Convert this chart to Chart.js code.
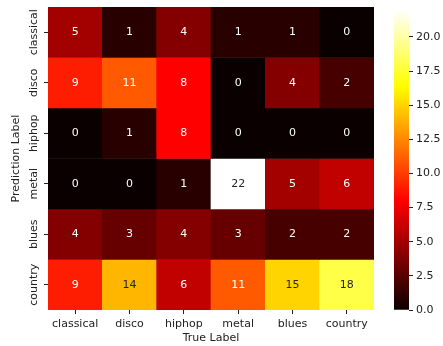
<!DOCTYPE html>
<html>
<head>
<meta charset="utf-8">
<script src="https://cdn.jsdelivr.net/npm/chart.js@4"></script>
<style>
  html, body { margin: 0; padding: 0; background: #fff; }
  #wrap { position: relative; width: 443px; height: 346px; }
  .layer { position: absolute; left: 0; top: 0; width: 443px; height: 346px; }
</style>
</head>
<body>
<div id="wrap">
  <div class="layer"><canvas id="heat"></canvas></div>
  <div class="layer"><canvas id="cbar"></canvas></div>
</div>
<script>
// confusion matrix data
const trueLabels = ['classical', 'disco', 'hiphop', 'metal', 'blues', 'country'];
const predLabels = ['classical', 'disco', 'hiphop', 'metal', 'blues', 'country'];

const predClassical = [5, 1, 4, 1, 1, 0];
const predDisco     = [9, 11, 8, 0, 4, 2];
const predHiphop    = [0, 1, 8, 0, 0, 0];
const predMetal     = [0, 0, 1, 22, 5, 6];
const predBlues     = [4, 3, 4, 3, 2, 2];
const predCountry   = [9, 14, 6, 11, 15, 18];

const matrix = [predClassical, predDisco, predHiphop, predMetal, predBlues, predCountry];

const cbTicks = [0, 2.5, 5, 7.5, 10, 12.5, 15, 17.5, 20];
const vmin = 0;
const vmax = 22;

const FONT = { family: '"DejaVu Sans"', size: 11 };
const TEXT = '#222222';

// matplotlib "hot" colormap
function hotRGB(v) {
  const t = Math.min(1, Math.max(0, (v - vmin) / (vmax - vmin)));
  const r = t < 0.365079 ? 0.0416 + (1 - 0.0416) * t / 0.365079 : 1;
  const g = t < 0.365079 ? 0 : (t < 0.746032 ? (t - 0.365079) / (0.746032 - 0.365079) : 1);
  const b = t < 0.746032 ? 0 : (t - 0.746032) / (1 - 0.746032);
  return [r, g, b];
}
function hot(v) {
  const [r, g, b] = hotRGB(v);
  return `rgb(${Math.round(r * 255)},${Math.round(g * 255)},${Math.round(b * 255)})`;
}
// seaborn picks dark or white annotation text from luminance
function textColor(v) {
  const lin = hotRGB(v).map(c => c <= 0.03928 ? c / 12.92 : Math.pow((c + 0.055) / 1.055, 2.4));
  const lum = 0.2126 * lin[0] + 0.7152 * lin[1] + 0.0722 * lin[2];
  return lum > 0.408 ? '#262626' : '#ffffff';
}

const cellText = {
  id: 'cellText',
  afterDatasetsDraw(chart) {
    const { ctx, scales: { x, y } } = chart;
    ctx.save();
    ctx.font = '11px "DejaVu Sans"';
    ctx.textAlign = 'center';
    ctx.textBaseline = 'middle';
    matrix.forEach((row, r) => {
      row.forEach((v, c) => {
        ctx.fillStyle = textColor(v);
        ctx.fillText(String(v), x.getPixelForValue(c), y.getPixelForValue(r + 0.5));
      });
    });
    // rotated row labels, centred on each row
    ctx.fillStyle = TEXT;
    predLabels.forEach((lab, r) => {
      ctx.save();
      ctx.translate(34, y.getPixelForValue(r + 0.5));
      ctx.rotate(-Math.PI / 2);
      ctx.fillText(lab, 0, 0);
      ctx.restore();
    });
    ctx.restore();
  }
};

new Chart(document.getElementById('heat'), {
  type: 'bar',
  data: {
    labels: trueLabels,
    datasets: matrix.map((row, r) => ({
      label: predLabels[r],
      data: row.map(() => [r, r + 1]),
      backgroundColor: row.map(hot),
      borderWidth: 0,
      barPercentage: 1,
      categoryPercentage: 1,
      grouped: false
    }))
  },
  options: {
    responsive: true,
    maintainAspectRatio: false,
    animation: false,
    layout: { padding: { left: 0, top: 7, right: 69, bottom: 0 } },
    plugins: { legend: { display: false }, tooltip: { enabled: false } },
    scales: {
      x: {
        type: 'category',
        afterFit: s => { s.height = 36; },
        grid: { offset: false, drawOnChartArea: false, tickLength: 4, tickColor: TEXT },
        border: { display: false },
        ticks: { font: FONT, color: TEXT, padding: 4, maxRotation: 0 },
        title: { display: true, text: 'True Label', font: FONT, color: TEXT, padding: { top: 0, bottom: 1 } }
      },
      y: {
        type: 'linear',
        reverse: true,
        min: 0,
        max: predLabels.length,
        afterBuildTicks: s => { s.ticks = predLabels.map((_, i) => ({ value: i + 0.5 })); },
        afterFit: s => { s.width = 48; },
        grid: { drawOnChartArea: false, tickLength: 4, tickColor: TEXT },
        border: { display: false },
        ticks: { display: false },
        title: { display: true, text: 'Prediction Label', font: FONT, color: TEXT, padding: { top: 10, bottom: 0 } }
      }
    }
  },
  plugins: [cellText]
});

// colorbar
new Chart(document.getElementById('cbar'), {
  type: 'bar',
  data: {
    labels: [''],
    datasets: [{
      data: [[vmin, vmax]],
      backgroundColor: ctx => {
        const chart = ctx.chart;
        if (!chart.chartArea) return hot(vmax);
        const y = chart.scales.y;
        const y0 = y.getPixelForValue(vmin), y1 = y.getPixelForValue(vmax);
        const grad = chart.ctx.createLinearGradient(0, y0, 0, y1);
        [0, 0.365079, 0.746032, 1].forEach(t => grad.addColorStop(t, hot(vmin + t * (vmax - vmin))));
        return grad;
      },
      borderWidth: 0,
      barPercentage: 1,
      categoryPercentage: 1
    }]
  },
  options: {
    responsive: true,
    maintainAspectRatio: false,
    animation: false,
    layout: { padding: { left: 394, top: 9, right: 0, bottom: 36 } },
    plugins: { legend: { display: false }, tooltip: { enabled: false } },
    scales: {
      x: { display: false },
      y: {
        position: 'right',
        min: vmin,
        max: vmax,
        afterBuildTicks: s => { s.ticks = cbTicks.map(v => ({ value: v })); },
        afterFit: s => { s.width = 34; },
        grid: { drawOnChartArea: false, tickLength: 4, tickColor: TEXT },
        border: { display: false },
        ticks: { font: FONT, color: TEXT, padding: 3, callback: v => v.toFixed(1) }
      }
    }
  }
});
</script>
</body>
</html>
